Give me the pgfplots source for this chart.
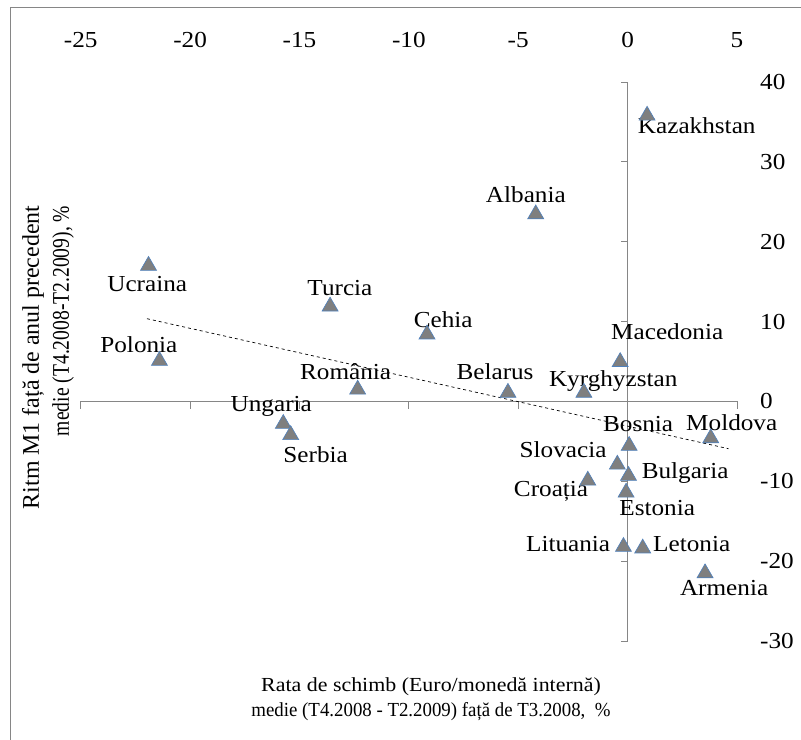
\documentclass[border=0pt]{standalone}
\usepackage{fontspec}
\setmainfont{Liberation Serif}[FakeStretch=1.1]
\newfontfamily\plainserif{Liberation Serif}
\usepackage{pgfplots}
\pgfplotsset{compat=1.18}
\definecolor{mkfill}{HTML}{7F7F7F}
\definecolor{mkedge}{HTML}{4F81BD}
\definecolor{axgray}{HTML}{868686}
\tikzset{lbl/.style={font=\fontsize{23}{26}\selectfont, inner sep=0pt}}
\pgfplotstableread{
x y
0.89 35.8
-4.20 23.45
-21.9 17.0
-13.6 11.9
-9.17 8.4
-0.34 4.95
-21.4 5.1
-12.34 1.5
-5.47 1.1
-2.0 1.1
-15.74 -2.8
-15.4 -4.2
0.07 -5.55
3.80 -4.6
-0.47 -7.9
0.04 -9.3
-1.82 -9.9
-0.07 -11.4
-0.19 -18.2
0.69 -18.4
3.54 -21.5
}\pts
\begin{document}
\begin{tikzpicture}
\useasboundingbox (-80.7bp,-99bp) rectangle (720.3bp,641bp);
\draw[axgray, line width=0.8bp] (-70.7bp,-110bp) -- (-70.7bp,634bp) -- (730bp,634bp);
\begin{axis}[
 at={(0,0)}, anchor=south west, scale only axis,
 width=656.3bp, height=559bp,
 xmin=-25, xmax=5, ymin=-30, ymax=40,
 clip=false,
 axis line style={draw=none},
 major tick length=0pt,
 xtick={-25,-20,...,5}, xticklabels={-25,-20,-15,-10,-5,0,5},
 ytick={-30,-20,...,40}, yticklabels={-30,-20,-10,0,10,20,30,40},
 xticklabel pos=right, yticklabel pos=right,
 xticklabel style={anchor=base, yshift=34bp, inner sep=0pt},
 yticklabel style={anchor=west, xshift=23bp, inner sep=0pt},
 tick label style={font=\fontsize{23}{26}\selectfont},
]
\draw[axgray, line width=0.8bp] (axis cs:-25,0) -- (axis cs:5,0);
\draw[axgray, line width=0.8bp] (axis cs:0,-30) -- (axis cs:0,40);
\pgfplotsinvokeforeach{-25,-20,...,5}{\draw[axgray, line width=0.8bp] (axis cs:#1,0) -- ([yshift=-7.5bp]axis cs:#1,0);}
\pgfplotsinvokeforeach{-30,-20,...,40}{\draw[axgray, line width=0.8bp] (axis cs:0,#1) -- ([xshift=-7bp]axis cs:0,#1);}
\addplot[black, line width=0.7bp, dash pattern=on 3bp off 3bp] coordinates {(-21.97,10.36) (4.61,-5.92)};
\addplot[only marks, mark=triangle*, mark size=9.3pt, mark options={fill=mkfill, draw=mkedge, line width=0.6bp}] table[x=x,y=y] {\pts};
\node[lbl] at (axis cs:3.16,34.47) {Kazakhstan};
\node[lbl] at (axis cs:-4.65,25.9) {Albania};
\node[lbl] at (axis cs:-21.96,14.65) {Ucraina};
\node[lbl] at (axis cs:-13.15,14.24) {Turcia};
\node[lbl] at (axis cs:-8.43,10.27) {Cehia};
\node[lbl] at (axis cs:1.81,8.77) {Macedonia};
\node[lbl] at (axis cs:-22.34,7.14) {Polonia};
\node[lbl] at (axis cs:-12.89,3.79) {România};
\node[lbl] at (axis cs:-6.06,3.67) {Belarus};
\node[lbl] at (axis cs:-0.66,2.54) {Kyrghyzstan};
\node[lbl] at (axis cs:-16.29,-0.59) {Ungaria};
\node[lbl] at (axis cs:-14.26,-6.64) {Serbia};
\node[lbl] at (axis cs:0.48,-2.88) {Bosnia};
\node[lbl] at (axis cs:4.76,-2.67) {Moldova};
\node[lbl] at (axis cs:-2.95,-6.01) {Slovacia};
\node[lbl] at (axis cs:2.63,-9.02) {Bulgaria};
\node[lbl] at (axis cs:-3.50,-11.31) {Croația};
\node[lbl] at (axis cs:1.35,-13.31) {Estonia};
\node[lbl] at (axis cs:-2.72,-17.91) {Lituania};
\node[lbl] at (axis cs:2.93,-17.91) {Letonia};
\node[lbl] at (axis cs:4.41,-23.33) {Armenia};
\end{axis}
\node[align=center, font=\fontsize{20}{25}\selectfont] at (350.3bp,-58bp) {Rata de schimb (Euro/monedă internă)\\ \scalebox{0.86}[1]{medie (T4.2008 - T2.2009) față de T3.2008,~~\%}};
\node[align=right, rotate=90, font=\plainserif\fontsize{24}{30}\selectfont] at (-32.7bp,283.5bp) {Ritm M1 față de anul precedent\\ \scalebox{0.82}[1]{medie (T4.2008-T2.2009), \%}};
\end{tikzpicture}
\end{document}
